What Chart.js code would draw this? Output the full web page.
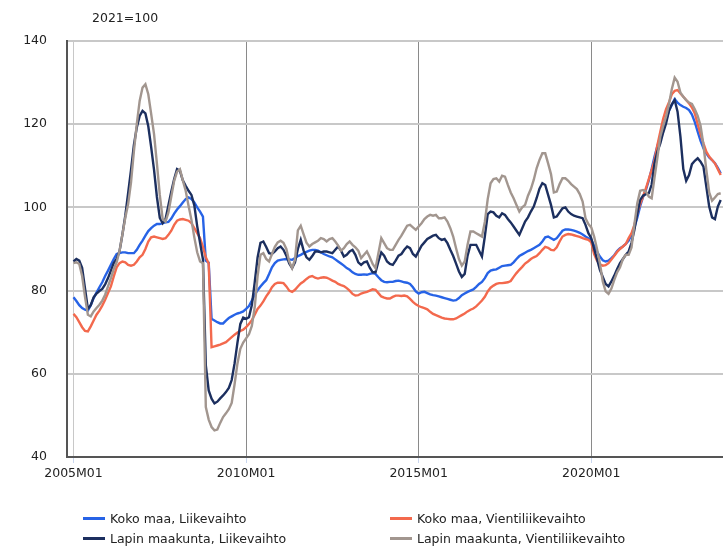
<!DOCTYPE html>
<html>
<head>
<meta charset="utf-8">
<script src="https://cdn.jsdelivr.net/npm/chart.js@4.4.1/dist/chart.umd.min.js"></script>
<style>
  html, body { margin: 0; padding: 0; background: #fff; }
  #wrap { position: relative; width: 723px; height: 546px; overflow: hidden; font-family: "DejaVu Sans", Verdana, sans-serif; color: #222; }
  #c { position: absolute; left: 0; top: 0; }
  #title { position: absolute; left: 92px; top: 10px; font-size: 12.5px; }
  .lg { position: absolute; font-size: 12.5px; white-space: nowrap; line-height: 16px; }
  .lg span.sw { display: inline-block; width: 22px; height: 3px; vertical-align: middle; margin-right: 5px; position: relative; top: -1px; }
</style>
</head>
<body>
<div id="wrap">
  <canvas id="c" width="723" height="546"></canvas>
  <div id="title">2021=100</div>
  <div id="legend"></div>
</div>
<script>
// ---- data ----
const seriesNames = [
  "Koko maa, Liikevaihto",
  "Koko maa, Vientiliikevaihto",
  "Lapin maakunta, Liikevaihto",
  "Lapin maakunta, Vientiliikevaihto"
];
const seriesColors = ["#2763e6", "#f3694d", "#1c2f5f", "#a2968f"];

const categories = [];
for (let y = 2005; y <= 2023; y++) {
  for (let m = 1; m <= 12; m++) {
    if (categories.length < 226) categories.push(y + "M" + (m < 10 ? "0" + m : m));
  }
}
const tickLabels = ["2005M01", "2010M01", "2015M01", "2020M01"];
const yTicks = [40, 60, 80, 100, 120, 140];

const kokoLiikevaihto = [
  78.4, 77.5, 76.5, 75.8, 75.4, 75.2, 76.5, 78.2, 79.5, 80.8,
  82.0, 83.5, 84.8, 86.2, 87.6, 88.8, 89.0, 89.2, 89.2, 89.0,
  89.0, 89.0, 89.8, 91.0, 92.0, 93.2, 94.3, 95.0, 95.6, 96.0,
  96.0, 96.2, 96.4, 96.5, 97.3, 98.5, 99.5, 100.3, 101.2, 102.0,
  102.4, 102.0, 101.2, 100.0, 99.0, 97.8, 87.2, 86.7, 73.2, 72.8,
  72.4, 72.1, 72.1, 72.8, 73.4, 73.8, 74.2, 74.5, 74.7, 75.0,
  75.6, 76.3, 77.6, 79.0, 80.1, 81.0, 81.8, 82.5, 84.0, 85.6,
  86.6, 87.2, 87.4, 87.5, 87.6, 87.5, 87.4, 87.8, 88.3, 88.6,
  89.0, 89.3, 89.6, 89.8, 89.8, 89.6, 89.2, 88.8, 88.5, 88.2,
  88.0, 87.5, 87.0, 86.5, 86.0, 85.4, 85.0, 84.4, 84.0, 83.8,
  83.8, 83.9, 83.8, 84.0, 84.2, 84.0, 83.2, 82.5, 82.1, 82.0,
  82.1, 82.1, 82.3, 82.4, 82.2, 82.0, 81.9, 81.6, 80.8, 79.8,
  79.3, 79.6, 79.7, 79.4, 79.1, 78.9, 78.8, 78.6, 78.4, 78.2,
  78.0, 77.8, 77.6, 77.7, 78.2, 78.9, 79.3, 79.7, 80.0, 80.3,
  80.9, 81.6, 82.1, 83.0, 84.2, 84.8, 85.0, 85.1, 85.5, 85.9,
  86.0, 86.1, 86.2, 86.8, 87.6, 88.3, 88.7, 89.1, 89.5, 89.8,
  90.2, 90.6, 91.0, 91.8, 92.8, 93.0, 92.6, 92.2, 92.6, 93.5,
  94.4, 94.7, 94.7, 94.6, 94.4, 94.2, 93.9, 93.5, 93.0, 92.6,
  92.2, 90.8, 89.4, 88.2, 87.3, 87.0, 87.2, 87.8, 88.5, 89.5,
  90.2, 90.6, 91.2, 92.0, 93.5, 95.2, 97.5, 100.3, 102.5, 104.2,
  106.5, 109.2, 112.2, 114.8, 117.0, 119.2, 121.0, 123.2, 124.6, 126.0,
  125.2, 124.6, 124.2, 123.9, 123.4, 122.3, 120.5, 118.2, 116.0, 114.2,
  113.0, 112.0, 111.4, 110.6, 109.5, 108.2
];
const kokoVienti = [
  74.4, 73.6, 72.4, 71.2, 70.3, 70.2, 71.4, 72.8, 74.2, 75.2,
  76.4, 77.8, 79.4, 81.0, 83.4, 85.6, 86.6, 87.0, 86.8, 86.2,
  86.0, 86.2, 87.0, 88.0, 88.6, 90.0, 91.8, 92.8, 93.0, 92.8,
  92.6, 92.4, 92.6, 93.4, 94.4, 95.8, 96.8, 97.1, 97.2, 97.0,
  96.8, 96.2, 95.0, 93.8, 92.6, 90.5, 88.0, 86.5, 66.4, 66.6,
  66.8, 67.0, 67.3, 67.6, 68.2, 68.8, 69.4, 69.9, 70.3, 70.6,
  71.2, 72.0, 72.9, 74.2, 75.6, 76.4, 77.4, 78.6, 79.6, 80.8,
  81.6, 81.9, 81.9, 81.8, 81.0, 80.0, 79.7, 80.2, 81.0, 81.7,
  82.2, 82.8, 83.3, 83.5, 83.1, 82.9, 83.1, 83.2, 83.1, 82.8,
  82.4, 82.1, 81.6, 81.3, 81.1, 80.6, 80.0, 79.2, 78.8, 78.9,
  79.3, 79.5, 79.7, 80.0, 80.3, 80.2, 79.4, 78.6, 78.3, 78.1,
  78.1, 78.5, 78.8, 78.8, 78.7, 78.8, 78.6, 78.0, 77.3, 76.7,
  76.3, 76.0, 75.8, 75.5, 74.9, 74.4, 74.1, 73.8, 73.5, 73.3,
  73.2, 73.1, 73.1, 73.3, 73.7, 74.1, 74.5, 75.0, 75.4, 75.7,
  76.2, 76.9, 77.6, 78.5, 79.8, 80.7, 81.2, 81.6, 81.8, 81.8,
  81.9, 82.0, 82.3, 83.3, 84.2, 85.0, 85.7, 86.5, 87.0, 87.6,
  88.0, 88.3, 89.0, 89.8, 90.5, 90.3, 89.8, 89.7, 90.4, 91.8,
  93.0, 93.4, 93.6, 93.5, 93.3, 93.1, 92.9, 92.6, 92.4, 92.2,
  91.6, 88.8, 87.2, 86.3, 86.0, 86.1, 86.6, 87.5, 88.4, 89.3,
  90.0, 90.6, 91.2, 92.6, 93.8, 95.8, 98.6, 100.8, 102.6, 104.6,
  106.8, 109.0, 111.4, 115.0, 118.2, 121.3, 123.6, 125.2, 127.2, 128.0,
  128.2, 127.4, 126.6, 125.8, 125.0, 124.0, 122.6, 120.0, 117.6, 115.4,
  113.4, 112.2, 111.4, 110.6, 109.2, 107.8
];
const lappiLiikevaihto = [
  87.0, 87.6, 87.2, 85.5, 80.5, 75.6, 76.5, 78.4, 79.3, 79.9,
  80.4, 81.5, 83.0, 84.8, 86.6, 87.6, 89.5, 93.5, 98.0, 103.5,
  109.0, 115.0, 119.2, 122.0, 123.2, 122.6, 119.5, 114.5, 109.0, 102.5,
  97.5, 96.2, 97.2, 100.5, 103.8, 106.8, 109.2, 108.8, 106.5, 105.2,
  104.0, 103.0, 100.5, 95.5, 91.5, 87.5, 62.0, 56.0, 54.0, 52.9,
  53.3, 54.1, 54.8, 55.6, 56.6, 58.5, 62.5, 67.5, 72.0, 73.5,
  73.2, 73.6, 76.5, 82.0, 88.0, 91.5, 91.8, 90.5, 89.0, 88.8,
  89.4, 90.2, 90.6, 89.8, 88.4, 86.5, 85.4, 86.8, 90.0, 92.2,
  89.6, 88.0, 87.4, 88.3, 89.4, 89.4, 89.2, 89.4, 89.4, 89.2,
  89.0, 89.8, 90.6, 89.6, 88.2, 88.6, 89.4, 89.8, 88.6, 86.8,
  86.2, 86.8, 87.0, 85.5, 84.4, 84.4, 87.0, 89.2, 88.4, 87.0,
  86.4, 86.2, 87.2, 88.4, 88.8, 89.8, 90.6, 90.2, 88.8, 88.2,
  89.5, 90.8, 91.6, 92.4, 92.8, 93.2, 93.4, 92.6, 92.2, 92.4,
  91.4, 89.8, 88.3, 86.5, 84.6, 83.3, 84.0, 88.4, 91.0, 91.0,
  91.0, 89.6, 88.2, 93.0, 98.4, 99.0, 98.8, 98.0, 97.6, 98.6,
  98.2, 97.2, 96.4, 95.4, 94.4, 93.4, 95.0, 96.6, 97.6, 99.0,
  100.2, 102.2, 104.5, 105.8, 105.4, 103.0, 100.6, 97.6, 97.8, 98.8,
  99.8, 100.0, 99.0, 98.4, 98.0, 97.8, 97.6, 97.4, 95.8, 93.8,
  92.6, 90.0, 87.6, 85.0, 83.3, 81.6, 81.0, 82.2, 83.6, 85.2,
  86.6, 87.6, 88.6, 89.4, 91.5, 94.6, 98.5, 101.8, 102.8, 103.2,
  103.4, 105.5, 110.6, 113.4, 115.4, 118.0, 120.2, 123.2, 124.8, 125.8,
  123.0, 117.0, 109.2, 106.4, 107.8, 110.4, 111.2, 111.8, 111.0, 109.8,
  105.0, 100.2, 97.6, 97.2, 100.2, 101.8
];
const lappiVienti = [
  86.6, 86.8, 86.4, 83.5, 78.5, 74.2, 73.8, 75.0, 75.8, 76.6,
  77.6, 79.0, 81.0, 83.0, 85.2, 86.8, 89.5, 93.5, 97.5, 100.8,
  106.0, 113.5, 120.0, 125.6, 128.8, 129.6, 127.2, 122.5, 117.6, 110.5,
  103.0, 97.2, 96.6, 98.8, 102.6, 106.4, 108.6, 109.2, 106.5, 104.0,
  100.4, 97.0, 92.8, 89.2, 87.0, 86.6, 52.0, 49.0, 47.2, 46.4,
  46.6, 48.2, 49.6, 50.5, 51.5, 53.0, 57.5, 62.5, 66.0, 67.5,
  68.5, 69.5, 71.5, 76.0, 83.5, 88.6, 89.0, 87.6, 87.0, 88.8,
  90.5, 91.6, 92.0, 91.5, 90.0, 87.0, 85.4, 87.5, 94.5, 95.6,
  93.5, 91.5, 90.6, 91.2, 91.6, 92.0, 92.6, 92.4, 91.8, 92.4,
  92.6, 91.8, 90.8, 89.6, 90.2, 91.2, 91.8, 91.0, 90.4, 89.6,
  87.8, 88.6, 89.4, 88.0, 86.4, 85.4, 89.0, 92.6, 91.4, 90.2,
  89.8, 89.8, 91.0, 92.2, 93.2, 94.4, 95.6, 95.8, 95.2, 94.6,
  95.4, 96.2, 97.2, 97.8, 98.2, 98.0, 98.2, 97.4, 97.4, 97.6,
  96.6, 95.0, 93.0, 90.2, 87.6, 86.0, 87.0, 91.0, 94.2, 94.2,
  93.8, 93.4, 93.0, 96.5, 102.0, 105.8, 106.8, 107.0, 106.2, 107.6,
  107.4, 105.4, 103.6, 102.2, 100.6, 99.0, 100.0, 100.6, 102.8, 104.4,
  106.6, 109.4, 111.4, 113.0, 113.0, 110.6, 108.0, 103.6, 103.8, 105.6,
  107.0, 107.0, 106.4, 105.6, 105.0, 104.4, 103.2, 101.4, 97.4, 96.0,
  95.2, 93.0, 90.0, 86.6, 82.2, 79.8, 79.2, 80.5, 82.6, 84.4,
  85.6, 87.6, 88.6, 88.6, 90.4, 96.0, 101.0, 104.0, 104.2, 103.8,
  102.6, 102.2, 107.2, 112.0, 117.0, 119.6, 121.8, 124.8, 128.4, 131.2,
  130.2, 127.6, 126.6, 125.8, 125.2, 124.9, 123.6, 122.0, 119.6, 115.0,
  109.0, 103.6, 101.6, 102.4, 103.2, 103.4
];
const seriesValues = [kokoLiikevaihto, kokoVienti, lappiLiikevaihto, lappiVienti];

// ---- legend (HTML text) ----
const legendPos = [[83, 511], [390, 511], [83, 531], [390, 531]];
const lg = document.getElementById("legend");
seriesNames.forEach((n, k) => {
  const d = document.createElement("div");
  d.className = "lg";
  d.style.left = legendPos[k][0] + "px";
  d.style.top = legendPos[k][1] + "px";
  d.innerHTML = '<span class="sw" style="background:' + seriesColors[k] + '"></span>' + n;
  lg.appendChild(d);
});

// ---- chart ----
const datasets = seriesNames.map((n, k) => ({
  label: n,
  data: seriesValues[k].map((v, i) => ({ x: i, y: v })),
  borderColor: seriesColors[k],
  backgroundColor: seriesColors[k],
  borderWidth: 2.4,
  pointRadius: 0,
  tension: 0,
  order: 3 - k
}));

const FONT = { family: "'DejaVu Sans', Verdana, sans-serif", size: 12.5 };

new Chart(document.getElementById("c"), {
  type: "line",
  data: { datasets },
  options: {
    responsive: false,
    animation: false,
    layout: { padding: { top: 41, left: 0, right: 0, bottom: 0 } },
    plugins: { legend: { display: false }, tooltip: { enabled: false }, title: { display: false } },
    scales: {
      x: {
        type: "linear",
        min: -2.26,
        max: 225.8,
        afterFit: (s) => { s.height = 89; },
        afterBuildTicks: (s) => { s.ticks = tickLabels.map(l => ({ value: categories.indexOf(l) })); },
        ticks: {
          autoSkip: false,
          maxRotation: 0,
          padding: 3,
          color: "#222",
          font: FONT,
          callback: (v) => categories[v]
        },
        grid: {
          color: (ctx) => (ctx.index === 0 ? "#c8c8c8" : "#8a8a8a"),
          lineWidth: 1,
          drawTicks: true,
          tickLength: 6,
          tickColor: "#c9d6ee"
        },
        border: { display: true, color: "#555", width: 2 }
      },
      y: {
        min: 40,
        max: 140,
        afterFit: (s) => { s.width = 67; },
        afterBuildTicks: (s) => { s.ticks = yTicks.map(v => ({ value: v })); },
        ticks: { color: "#222", font: FONT, padding: 20 },
        grid: { color: "#c8c8c8", lineWidth: 2, drawTicks: false },
        border: { display: true, color: "#555", width: 2 }
      }
    }
  }
});
</script>
</body>
</html>
